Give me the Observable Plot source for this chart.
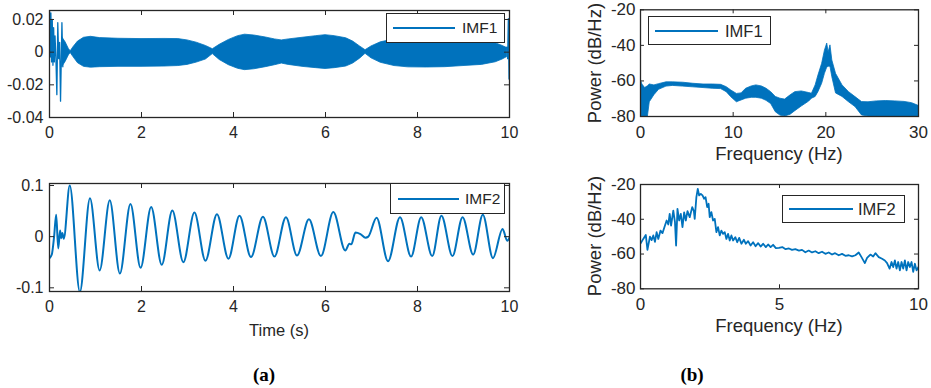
<!DOCTYPE html>
<html><head><meta charset="utf-8">
<script src="https://cdn.jsdelivr.net/npm/d3@7"></script>
<script src="https://cdn.jsdelivr.net/npm/@observablehq/plot@0.6"></script>
<style>
body{margin:0;background:#fff;}
#wrap{position:relative;width:931px;height:388px;background:#fff;font-family:"Liberation Sans",Arial,sans-serif;color:#262626;overflow:hidden;}
#wrap svg{position:absolute;}
.legend{position:absolute;border:1.4px solid #262626;background:#fff;box-sizing:border-box;}
.txt{position:absolute;white-space:nowrap;line-height:1;}
</style></head><body><div id="wrap"></div>
<script>
// ---------- data ----------
// (a) top: IMF1 time series - initial transient and end spike
const imf1StartT = [0, 0.015, 0.03, 0.045, 0.06, 0.075, 0.09, 0.105, 0.12, 0.14, 0.16, 0.18, 0.2, 0.22, 0.24, 0.27, 0.29];
const imf1StartV = [0.026, -0.003, 0.024, -0.006, 0.02, -0.008, 0.015, -0.006, 0.01, -0.004, -0.026, 0.018, -0.004, 0.006, -0.030, 0.018, -0.009];
// IMF1 dense 20 Hz oscillation, drawn as its envelope band
const imf1EnvT  = [0.28, 0.35, 0.42, 0.46, 0.52, 0.62, 0.75, 0.9, 1.1, 1.5, 2.0, 2.5, 2.8, 3.0, 3.2, 3.4, 3.55, 3.7, 3.9, 4.1, 4.25, 4.45, 4.7, 4.9, 5.05, 5.2, 5.5, 5.8, 6.0, 6.2, 6.45, 6.6, 6.75, 6.87, 7.0, 7.2, 7.5, 7.8, 8.2, 8.6, 9.0, 9.4, 9.7, 9.85, 9.95];
const imf1EnvHi = [0.009, 0.006, 0.002, 0.0005, 0.003, 0.0065, 0.0088, 0.0094, 0.0086, 0.0082, 0.008, 0.0081, 0.008, 0.0072, 0.0058, 0.0038, 0.0018, 0.0045, 0.0075, 0.0098, 0.0107, 0.0102, 0.009, 0.0078, 0.0072, 0.0078, 0.0088, 0.0098, 0.0104, 0.0098, 0.0085, 0.0065, 0.0035, 0.0012, 0.0035, 0.006, 0.0078, 0.0085, 0.0085, 0.0085, 0.008, 0.0072, 0.0055, 0.0038, 0.0025];
const imf1EnvLo = [-0.009, -0.006, -0.002, -0.0005, -0.003, -0.0068, -0.009, -0.0095, -0.0092, -0.009, -0.009, -0.0088, -0.0085, -0.0078, -0.0064, -0.0045, -0.0012, -0.0048, -0.008, -0.0102, -0.011, -0.0105, -0.0092, -0.008, -0.007, -0.0078, -0.009, -0.0098, -0.0103, -0.0098, -0.0088, -0.007, -0.004, -0.001, -0.0038, -0.0065, -0.0085, -0.0093, -0.0094, -0.0092, -0.0085, -0.0078, -0.0062, -0.0045, -0.003];
const imf1EndT = [9.94, 9.96, 9.975, 9.99, 10];
const imf1EndV = [0.003, -0.004, 0.0205, -0.0165, 0.004];

// (a) bottom: IMF2 time series (peaks and troughs)
const imf2T = [0, 0.05, 0.1, 0.145, 0.19, 0.23, 0.255, 0.28, 0.31, 0.44, 0.66, 0.88, 1.09, 1.31, 1.53, 1.76, 1.98, 2.21, 2.44, 2.67, 2.91, 3.15, 3.39, 3.64, 3.89, 4.13, 4.38, 4.64, 4.89, 5.14, 5.38, 5.64, 5.9, 6.17, 6.43, 6.52, 6.56, 6.65, 6.76, 6.87, 6.93, 7.11, 7.36, 7.62, 7.86, 8.08, 8.32, 8.52, 8.76, 8.98, 9.21, 9.42, 9.64, 9.85, 9.95, 10];
const imf2V = [-0.042, -0.035, 0.0, 0.043, -0.023, 0.012, -0.003, 0.007, -0.004, 0.1, -0.108, 0.075, -0.066, 0.071, -0.072, 0.064, -0.061, 0.058, -0.055, 0.051, -0.05, 0.047, -0.047, 0.044, -0.043, 0.041, -0.04, 0.039, -0.039, 0.038, -0.037, 0.034, -0.038, 0.048, -0.027, -0.014, -0.015, 0.008, 0.005, -0.002, 0.0, 0.037, -0.048, 0.038, -0.039, 0.038, -0.038, 0.041, -0.038, 0.038, -0.035, 0.043, -0.042, 0.015, -0.008, -0.002];

// (b) top: PSD of IMF1 (noisy spectrum drawn as its envelope band)
const psd1F  = [0, 0.2, 0.5, 0.8, 1.0, 1.5, 2.0, 2.8, 3.5, 4.6, 5.7, 6.8, 7.8, 8.7, 9.3, 9.8, 10.4, 10.9, 11.4, 12.0, 12.5, 13.1, 13.6, 14.1, 14.6, 15.1, 15.6, 16.2, 16.7, 17.4, 18.2, 18.5, 18.9, 19.2, 19.6, 19.9, 20.15, 20.3, 20.5, 20.7, 21.1, 21.8, 22.5, 23.2, 23.9, 24.6, 25.5, 26.5, 27.5, 28.5, 29.3, 30];
const psd1Hi = [-59, -62, -64, -63, -62, -62.5, -61.8, -60.8, -60.8, -61, -61.6, -62, -62, -62.2, -63.5, -65.4, -67.3, -67, -64.4, -63.1, -62.5, -63.1, -64.4, -66.3, -69, -70, -70.5, -68.1, -66.3, -65.9, -66.8, -67.2, -62.5, -57, -50.4, -43, -39, -44, -40, -48.5, -56, -62.5, -66.3, -69.1, -71.9, -72, -71.5, -71.3, -71.5, -71.8, -72.5, -74];
const psd1Lo = [-80, -80, -80, -80, -72, -68, -65, -63.2, -62.8, -63.2, -63.6, -64, -64.4, -64.6, -66.3, -69.2, -72, -71, -70, -69.5, -69.5, -70, -71.2, -73, -77.6, -79.5, -80, -79, -77, -74.4, -71.6, -70, -69, -66.3, -61.6, -56, -52.5, -52, -52, -57.9, -67, -69, -72, -74.7, -79.4, -80, -80, -80, -80, -80, -80, -80];

// (b) bottom: PSD of IMF2
const psd2F = [0, 0.1, 0.19, 0.25, 0.34, 0.4, 0.46, 0.52, 0.58, 0.64, 0.72, 0.79, 0.88, 0.94, 1.0, 1.05, 1.1, 1.18, 1.24, 1.28, 1.33, 1.39, 1.45, 1.51, 1.57, 1.63, 1.69, 1.77, 1.86, 1.92, 1.95, 2.01, 2.06, 2.11, 2.17, 2.23, 2.29, 2.34, 2.4, 2.45, 2.49, 2.55, 2.61, 2.67, 2.73, 2.79, 2.85, 2.91, 2.97, 3.03, 3.09, 3.15, 3.21, 3.27, 3.33, 3.41, 3.48, 3.55, 3.63, 3.72, 3.79, 3.87, 3.96, 4.05, 4.14, 4.23, 4.32, 4.41, 4.51, 4.59, 4.68, 4.77, 4.87, 4.98, 5.1, 5.22, 5.34, 5.45, 5.57, 5.7, 5.81, 5.93, 6.05, 6.17, 6.29, 6.41, 6.53, 6.65, 6.77, 6.89, 7.0, 7.13, 7.25, 7.37, 7.49, 7.61, 7.73, 7.85, 7.95, 8.07, 8.15, 8.27, 8.37, 8.45, 8.57, 8.69, 8.79, 8.87, 8.96, 9.03, 9.09, 9.15, 9.21, 9.27, 9.33, 9.39, 9.45, 9.51, 9.57, 9.63, 9.69, 9.75, 9.81, 9.87, 9.93, 10];
const psd2P = [-54, -51.3, -49, -57.6, -50, -52, -49.3, -53, -47.4, -51.3, -46.5, -48, -43.6, -40.7, -43, -36.9, -43.6, -35, -41.7, -55.1, -34, -40.7, -36.9, -44.5, -36, -40.7, -35.3, -38.8, -33, -35.3, -39.8, -27.3, -22.5, -26.3, -25.4, -26.3, -28.2, -27.3, -33, -31.1, -38.8, -35.9, -40.7, -39.8, -47.4, -44.5, -49.3, -46.5, -48.4, -47.4, -51.3, -48.4, -52.2, -49.3, -52.2, -50.3, -53.2, -50.7, -54.1, -51.8, -54.1, -52.6, -55.1, -53.2, -55.5, -53.7, -55.7, -54.1, -56, -54.5, -56, -54.7, -56.6, -56.4, -56, -57.2, -56.8, -57.6, -57.2, -58, -57.6, -59, -58, -59.1, -58.4, -59.5, -58.7, -59.9, -59.1, -60.3, -59.5, -60.7, -59.9, -61, -60.7, -61.4, -60.7, -59.1, -61.8, -65.2, -62.2, -60.3, -61.4, -59.5, -61.8, -62.7, -63.7, -65.2, -68.4, -64.6, -67.5, -63.7, -68.4, -64.6, -69.4, -64.6, -68.4, -63.7, -69.4, -64.6, -67.5, -64.6, -70.3, -65.6, -69.4, -67.5];

// tick values
const timeTicks = [0, 2, 4, 6, 8, 10];
const imf1Ticks = [-0.04, -0.02, 0, 0.02];
const imf2Ticks = [-0.1, 0, 0.1];
const freq1Ticks = [0, 10, 20, 30];
const freq2Ticks = [0, 5, 10];
const powerTicks = [-80, -60, -40, -20];
const seriesNames = ["IMF1", "IMF2"];
const axisTitles = {time: "Time (s)", freq: "Frequency (Hz)", power: "Power (dB/Hz)"};
const panelTags = ["(a)", "(b)"];

// ---------- drawing ----------
const blue = "#0072BD", ink = "#262626";
const wrap = document.getElementById("wrap");
const fmt = d => String(d);

function boxMarks(xTicks, yTicks, pw, ph, len) {
  const s = {stroke: ink, strokeWidth: 1};
  return [
    Plot.tickX(xTicks, {x: d => d, insetTop: ph - len, ...s}),
    Plot.tickX(xTicks, {x: d => d, insetBottom: ph - len, ...s}),
    Plot.tickY(yTicks, {y: d => d, insetRight: pw - len, ...s}),
    Plot.tickY(yTicks, {y: d => d, insetLeft: pw - len, ...s}),
    Plot.frame({stroke: ink, strokeWidth: 1.3})
  ];
}

function panel({left, top, width, height, mL, mR, mT, mB, xDomain, yDomain, xTicks, yTicks, fontSize, xPad, yPad, tickLen, marks}) {
  const pw = width - mL - mR, ph = height - mT - mB;
  const svg = Plot.plot({
    width, height, marginLeft: mL, marginRight: mR, marginTop: mT, marginBottom: mB,
    x: {domain: xDomain}, y: {domain: yDomain},
    style: {fontFamily: '"Liberation Sans", Arial, sans-serif', fontSize: fontSize + "px", color: ink, background: "transparent", overflow: "visible"},
    marks: [
      ...marks,
      Plot.axisX(xTicks, {tickSize: 0, tickPadding: xPad, tickFormat: fmt, label: null}),
      Plot.axisY(yTicks, {tickSize: 0, tickPadding: yPad, tickFormat: fmt, label: null}),
      ...boxMarks(xTicks, yTicks, pw, ph, tickLen)
    ]
  });
  svg.style.left = left + "px";
  svg.style.top = top + "px";
  wrap.appendChild(svg);
}

function addText(txt, x, y, fs, opts = {}) {
  const d = document.createElement("div");
  d.className = "txt";
  d.textContent = txt;
  const ax = opts.align === "left" ? "0" : "-50%";
  d.style.left = x + "px";
  d.style.top = y + "px";
  d.style.fontSize = fs + "px";
  d.style.transform = `translate(${ax},-50%)` + (opts.rotate ? ` rotate(${opts.rotate}deg)` : "");
  if (opts.font) d.style.fontFamily = opts.font;
  if (opts.weight) d.style.fontWeight = opts.weight;
  if (opts.color) d.style.color = opts.color;
  wrap.appendChild(d);
}

function legend(x0, y0, x1, y1, lx0, lx1, ly, tx, label, fs) {
  const box = document.createElement("div");
  box.className = "legend";
  Object.assign(box.style, {left: x0 + "px", top: y0 + "px", width: (x1 - x0) + "px", height: (y1 - y0) + "px"});
  wrap.appendChild(box);
  const line = document.createElement("div");
  Object.assign(line.style, {position: "absolute", left: lx0 + "px", top: (ly - 1) + "px", width: (lx1 - lx0) + "px", height: "2px", background: blue});
  wrap.appendChild(line);
  addText(label, tx, ly, fs, {align: "left"});
}

// (a) top
panel({
  left: 0, top: 0, width: 530, height: 145, mL: 49, mR: 21, mT: 10, mB: 28,
  xDomain: [0, 10], yDomain: [-0.04, 0.0255], xTicks: timeTicks, yTicks: imf1Ticks,
  fontSize: 16, xPad: 9, yPad: 6, tickLen: 5,
  marks: [
    Plot.areaY(imf1EnvT, {x: imf1EnvT, y1: imf1EnvLo, y2: imf1EnvHi, fill: blue, stroke: blue, strokeWidth: 0.8, clip: true}),
    Plot.line(imf1StartT, {x: imf1StartT, y: imf1StartV, stroke: blue, strokeWidth: 1.3, clip: true}),
    Plot.line(imf1EndT, {x: imf1EndT, y: imf1EndV, stroke: blue, strokeWidth: 1.3, clip: true})
  ]
});
// (a) bottom
panel({
  left: 0, top: 170, width: 530, height: 150, mL: 49, mR: 21, mT: 13, mB: 29,
  xDomain: [0, 10], yDomain: [-0.1072, 0.1039], xTicks: timeTicks, yTicks: imf2Ticks,
  fontSize: 16, xPad: 9, yPad: 6, tickLen: 5,
  marks: [
    Plot.line(imf2T, {x: imf2T, y: imf2V, stroke: blue, strokeWidth: 2, curve: "monotone-x", clip: true})
  ]
});
// (b) top
panel({
  left: 580, top: 0, width: 351, height: 145, mL: 60, mR: 13, mT: 9.3, mB: 29,
  xDomain: [0, 30], yDomain: [-80, -20], xTicks: freq1Ticks, yTicks: powerTicks,
  fontSize: 17, xPad: 9, yPad: 5, tickLen: 4,
  marks: [
    Plot.areaY(psd1F, {x: psd1F, y1: psd1Lo, y2: psd1Hi, fill: blue, stroke: blue, strokeWidth: 0.8, clip: true})
  ]
});
// (b) bottom
panel({
  left: 580, top: 170, width: 351, height: 150, mL: 60, mR: 13, mT: 14, mB: 31.7,
  xDomain: [0, 10], yDomain: [-80, -20], xTicks: freq2Ticks, yTicks: powerTicks,
  fontSize: 17, xPad: 9, yPad: 5, tickLen: 4,
  marks: [
    Plot.line(psd2F, {x: psd2F, y: psd2P, stroke: blue, strokeWidth: 1.8, clip: true})
  ]
});

// legends
legend(386, 13, 505, 43, 393, 455, 28, 462, seriesNames[0], 15.5);
legend(390, 183, 505, 214, 398, 459, 199, 465, seriesNames[1], 15.5);
legend(648, 16, 771, 45, 655, 718, 31, 725, seriesNames[0], 16.5);
legend(782, 195, 905, 223, 789, 853, 209, 858, seriesNames[1], 16.5);

// axis titles
addText(axisTitles.time, 279, 330, 16.5);
addText(axisTitles.freq, 779, 154, 18.5);
addText(axisTitles.freq, 779, 326, 18.5);
addText(axisTitles.power, 595, 63, 18.5, {rotate: -90});
addText(axisTitles.power, 595, 236, 18.5, {rotate: -90});

// panel tags
addText(panelTags[0], 264, 374, 19, {font: '"Liberation Serif", "DejaVu Serif", serif', weight: "bold", color: "#000"});
addText(panelTags[1], 692, 374, 19, {font: '"Liberation Serif", "DejaVu Serif", serif', weight: "bold", color: "#000"});
</script></body></html>
